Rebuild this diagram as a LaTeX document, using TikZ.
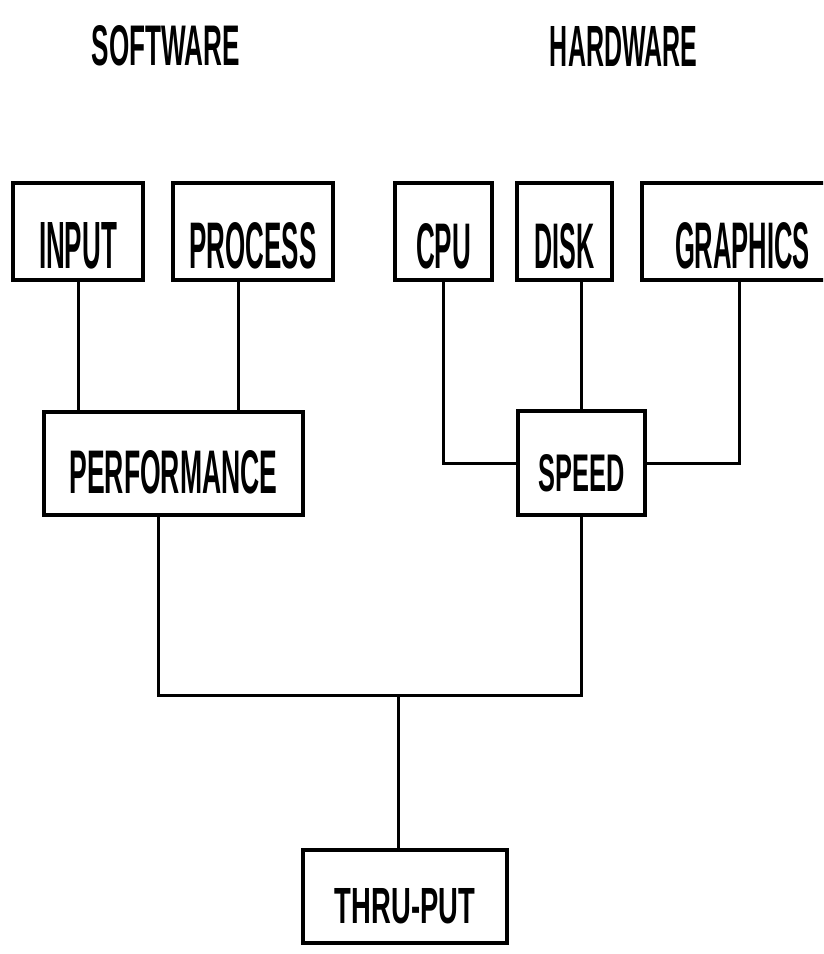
\documentclass[tikz,border=0pt]{standalone}
\usepackage{fontspec}
\setmainfont{Liberation Sans}
\usepackage{graphicx}
\newcommand{\fitlbl}[3]{\resizebox{#1pt}{#2pt}{\bfseries #3}}
\tikzset{
  box/.style={draw, line width=3.5pt, inner sep=0pt, text depth=0pt},
  conn/.style={line width=3pt},
  head/.style={inner sep=0pt},
}
\begin{document}
\begin{tikzpicture}[x=1pt, y=-1pt]
\useasboundingbox (0,0) rectangle (823,954);
\clip (0,0) rectangle (823,954);

% headers
\node[head] (sw) at (166,46) {\fitlbl{148}{40}{SOFTWARE}};
\node[head] (hw) at (623.5,46) {\fitlbl{147}{40}{HARDWARE}};

% top row
\node[box, minimum width=130pt, minimum height=97pt, text height=73pt] (input) at (78,231.5) {\fitlbl{78}{46}{INPUT}};
\node[box, minimum width=160pt, minimum height=97pt, text height=73pt] (process) at (253,231.5) {\fitlbl{127}{46}{PROCESS}};
\node[box, minimum width=97pt, minimum height=97pt, text height=73pt] (cpu) at (443.5,231.5) {\fitlbl{55}{45}{CPU}};
\node[box, minimum width=95pt, minimum height=97pt, text height=73pt] (disk) at (564.5,231.5) {\fitlbl{60}{45}{DISK}};
\node[box, minimum width=201pt, minimum height=97pt, text height=73pt] (graphics) at (742.5,231.5) {\fitlbl{135}{46}{GRAPHICS}};

% middle row
\node[box, minimum width=259pt, minimum height=103pt, text height=59pt] (perf) at (173.5,463.5) {\fitlbl{208}{43}{PERFORMANCE}};
\node[box, minimum width=127pt, minimum height=104pt, text height=57pt] (speed) at (581.5,463) {\fitlbl{86}{37}{SPEED}};

% bottom
\node[box, minimum width=204pt, minimum height=93pt, text height=53pt] (thru) at (405,896.5) {\fitlbl{140}{35}{THRU-PUT}};

\coordinate (j) at (398,695);

% connectors
\draw[conn] (input.south) -- (input.south |- perf.north);
\draw[conn] ([xshift=-15pt]process.south) -- ([xshift=-15pt]process.south |- perf.north);
\draw[conn] (cpu.south) |- (speed.west);
\draw[conn] (speed.north |- disk.south) -- (speed.north);
\draw[conn] ([xshift=-3pt]graphics.south) |- (speed.east);
\draw[conn] ([xshift=-15.5pt]perf.south) |- (j) -| (speed.south);
\draw[conn] (j) -- (j |- thru.north);
\end{tikzpicture}
\end{document}
